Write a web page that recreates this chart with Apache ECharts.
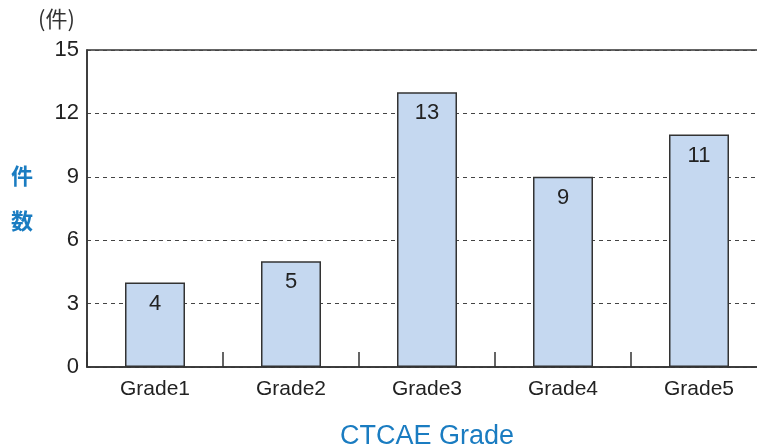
<!DOCTYPE html>
<html><head><meta charset="utf-8">
<script src="https://cdn.jsdelivr.net/npm/echarts@6/dist/echarts.min.js"></script>
<style>html,body{margin:0;padding:0;background:#fff}#c{width:757px;height:447px}</style>
</head><body><div id="c"></div>
<script>
const categories = ['Grade1','Grade2','Grade3','Grade4','Grade5'];
const counts = [4,5,13,9,11];
const yTicks = {min:0,max:15,interval:3};
const font = '"Helvetica Neue", Arial, "Liberation Sans", sans-serif';
const chart = echarts.init(document.getElementById('c'));
chart.setOption({
  animation:false,
  grid:{left:87,width:680,top:50,height:317,outerBoundsMode:'none',containLabel:false,show:true,borderColor:'#333',borderWidth:1.5,backgroundColor:'transparent'},
  graphic:[
    {type:'text',left:38,top:8,style:{text:'(件)',font:'22px "Noto Sans CJK JP"',fill:'#333'}},
    {type:'text',left:11,top:165,style:{text:'件',font:'bold 22px "Noto Sans CJK JP"',fill:'#1a7cc1'}},
    {type:'text',left:11,top:210,style:{text:'数',font:'bold 22px "Noto Sans CJK JP"',fill:'#1a7cc1'}},
    {type:'text',x:427,y:437,style:{text:'CTCAE Grade',font:'27px '+font,fill:'#1a7cc1',align:'center',verticalAlign:'middle'}}
  ],
  xAxis:{type:'category',data:categories,
    axisLine:{lineStyle:{color:'#333',width:1.5}},
    axisTick:{show:true,inside:true,length:15,lineStyle:{color:'#333',width:1.5}},
    axisLabel:{color:'#222',fontSize:21,fontFamily:font,margin:12}},
  yAxis:{type:'value',min:yTicks.min,max:yTicks.max,interval:yTicks.interval,
    axisLine:{show:true,lineStyle:{color:'#333',width:1.5}},
    axisTick:{show:false},
    axisLabel:{color:'#222',fontSize:22,fontFamily:font,margin:8}},
  series:[{type:'bar',data:counts,barWidth:60,
    itemStyle:{color:'#c5d8f0',borderColor:'#333',borderWidth:1.5},
    label:{show:true,position:'insideTop',distance:10,color:'#222',fontSize:22,fontFamily:font}}]
});
chart.setOption({yAxis:{splitLine:{show:true,lineStyle:{color:'#444',type:[4,4],width:1}}}});
</script></body></html>
